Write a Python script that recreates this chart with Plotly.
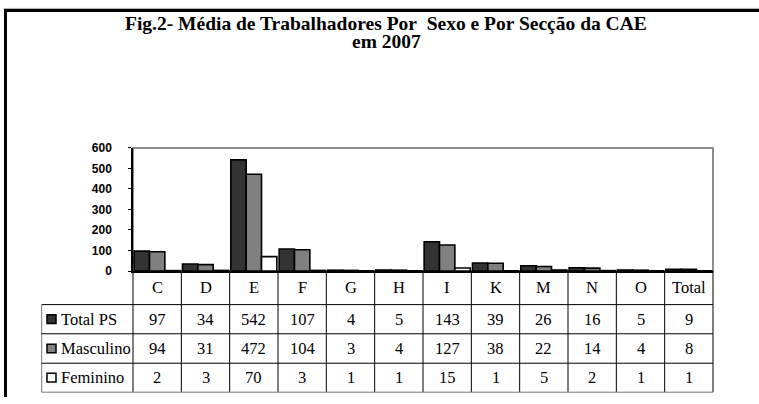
import plotly.graph_objects as go

CATEGORIES = ["C", "D", "E", "F", "G", "H", "I", "K", "M", "N", "O", "Total"]
TOTAL_PS = [97, 34, 542, 107, 4, 5, 143, 39, 26, 16, 5, 9]
MASCULINO = [94, 31, 472, 104, 3, 4, 127, 38, 22, 14, 4, 8]
FEMININO = [2, 3, 70, 3, 1, 1, 15, 1, 5, 2, 1, 1]
SERIES_NAMES = ["Total PS", "Masculino", "Feminino"]
SERIES_VALUES = [TOTAL_PS, MASCULINO, FEMININO]
Y_TICKS = [0, 100, 200, 300, 400, 500, 600]
TITLE_LINES = ["Fig.2- Média de Trabalhadores Por\u00a0 Sexo e Por Secção da CAE", "em 2007"]

WIDTH, HEIGHT = 759, 404
SERIES_COLORS = ["#333333", "#808080", "#ffffff"]
SERIF = "Liberation Serif, Times New Roman, serif"
SANS = "Liberation Sans, Arial, sans-serif"

# pixel layout of the original page
PLOT_LEFT, PLOT_RIGHT = 133, 713
PLOT_TOP, PLOT_BOTTOM = 146, 273.5
ROW_EDGES = [273.5, 308.3, 338.5, 369, 399]  # category row + three data rows
TABLE_LEFT = 41.7
KEY_LEFT, KEY_SIZE = 47, 9
LABEL_LEFT = 58.5
FRAME_LEFT, FRAME_TOP = 5.5, 3.5
TITLE_X = 386
TITLE_Y = [17.5, 36]


def px_x(x):
    return x / WIDTH


def px_y(y):
    return 1 - y / HEIGHT


def hline(x0, x1, y, color="black", width=1):
    return {"type": "line", "xref": "paper", "yref": "paper", "x0": px_x(x0), "x1": px_x(x1),
            "y0": px_y(y), "y1": px_y(y), "line": {"color": color, "width": width}}


def vline(x, y0, y1, color="black", width=1):
    return {"type": "line", "xref": "paper", "yref": "paper", "x0": px_x(x), "x1": px_x(x),
            "y0": px_y(y0), "y1": px_y(y1), "line": {"color": color, "width": width}}


fig = go.Figure()
for name, values, color in zip(SERIES_NAMES, SERIES_VALUES, SERIES_COLORS):
    fig.add_trace(
        go.Bar(
            x=CATEGORIES,
            y=values,
            name=name,
            marker={"color": color, "line": {"color": "black", "width": 1.6}},
        )
    )

shapes = [
    # plot area frame (grey top / right)
    {"type": "rect", "xref": "x domain", "yref": "y domain", "x0": 0, "x1": 1, "y0": 0, "y1": 1,
     "line": {"color": "#8c8c8c", "width": 2}, "layer": "below"},
    # outer page frame: top and left edges only are visible
    hline(FRAME_LEFT - 1.5, WIDTH, FRAME_TOP, width=3),
    vline(FRAME_LEFT, FRAME_TOP - 1.5, HEIGHT, width=3),
    hline(FRAME_LEFT - 1.5, WIDTH, FRAME_TOP - 2, color="#aaaaaa", width=1),
]

# data table grid
col_width = (PLOT_RIGHT - PLOT_LEFT) / len(CATEGORIES)
for i in range(len(CATEGORIES) + 1):
    shapes.append(vline(PLOT_LEFT + i * col_width, ROW_EDGES[0], ROW_EDGES[-1]))
shapes.append(vline(TABLE_LEFT, ROW_EDGES[1], ROW_EDGES[-1], color="#777777"))
for y in ROW_EDGES[1:-1]:
    shapes.append(hline(TABLE_LEFT, PLOT_RIGHT, y))
shapes.append(hline(TABLE_LEFT, PLOT_RIGHT, ROW_EDGES[-1], color="#777777"))

annotations = []
for text, y in zip(TITLE_LINES, TITLE_Y):
    annotations.append({
        "text": "<b>" + text + "</b>", "xref": "paper", "yref": "paper",
        "x": px_x(TITLE_X), "y": px_y(y), "xanchor": "center", "yanchor": "middle",
        "showarrow": False, "font": {"family": SERIF, "size": 19.5, "color": "black"},
    })

cell_font = {"family": SERIF, "size": 16.5, "color": "black"}
header_mid = (ROW_EDGES[0] + ROW_EDGES[1]) / 2
for cat in CATEGORIES:
    annotations.append({"text": cat, "xref": "x", "yref": "paper", "x": cat, "y": px_y(header_mid),
                        "yanchor": "middle", "showarrow": False, "font": cell_font})

for row, (name, values, color) in enumerate(zip(SERIES_NAMES, SERIES_VALUES, SERIES_COLORS)):
    mid = (ROW_EDGES[row + 1] + ROW_EDGES[row + 2]) / 2
    shapes.append({"type": "rect", "xref": "paper", "yref": "paper",
                   "x0": px_x(KEY_LEFT), "x1": px_x(KEY_LEFT + KEY_SIZE),
                   "y0": px_y(mid + KEY_SIZE / 2), "y1": px_y(mid - KEY_SIZE / 2),
                   "fillcolor": color, "line": {"color": "black", "width": 1.5}})
    annotations.append({"text": name, "xref": "paper", "yref": "paper", "x": px_x(LABEL_LEFT),
                        "y": px_y(mid), "xanchor": "left", "yanchor": "middle",
                        "showarrow": False, "font": cell_font})
    for cat, value in zip(CATEGORIES, values):
        annotations.append({"text": str(value), "xref": "x", "yref": "paper", "x": cat,
                            "y": px_y(mid), "yanchor": "middle", "showarrow": False,
                            "font": cell_font})

fig.update_layout(
    width=WIDTH,
    height=HEIGHT,
    margin={"l": 0, "r": 0, "t": 0, "b": 0},
    paper_bgcolor="white",
    plot_bgcolor="white",
    showlegend=False,
    barmode="group",
    bargap=0.047,
    bargroupgap=0,
    shapes=shapes,
    annotations=annotations,
)
fig.update_xaxes(
    domain=[px_x(PLOT_LEFT), px_x(PLOT_RIGHT)],
    range=[-0.5, len(CATEGORIES) - 0.5],
    showticklabels=False,
    showgrid=False,
    showline=True,
    linecolor="black",
    linewidth=1.5,
    ticks="",
)
fig.update_yaxes(
    domain=[px_y(PLOT_BOTTOM), px_y(PLOT_TOP)],
    range=[0, 600],
    tickvals=Y_TICKS,
    ticks="outside",
    ticklen=3,
    tickcolor="black",
    ticklabelstandoff=14,
    tickfont={"family": SANS, "size": 12, "color": "black", "weight": "bold"},
    showgrid=False,
    zeroline=False,
    showline=True,
    linecolor="black",
    linewidth=1.5,
)

# the page body has a default 8px margin; drop it so the figure sits at the window corner
fig.write_html(
    "out.html",
    config={"displayModeBar": False},
    post_script="document.body.style.margin = '0px';",
)
